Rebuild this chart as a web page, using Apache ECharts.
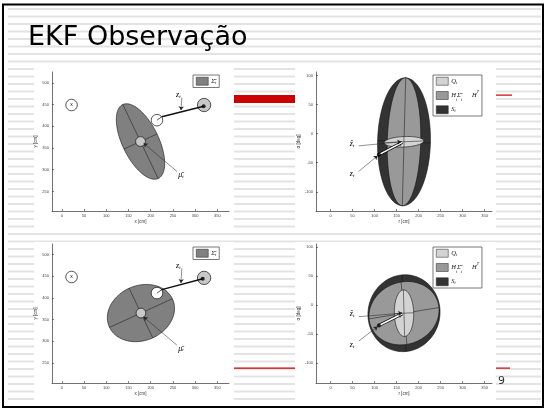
<!DOCTYPE html>
<html>
<head>
<meta charset="utf-8">
<title>EKF Observação</title>
<script src="https://cdn.jsdelivr.net/npm/echarts@6/dist/echarts.min.js"></script>
<style>
  html, body { margin: 0; padding: 0; background: #fff; }
  #chart { width: 551px; height: 414px; }
</style>
</head>
<body>
<div id="chart"></div>
<script>
// tick labels
const xTicks = [0, 50, 100, 150, 200, 250, 300, 350]
const yTicks = [250, 300, 350, 400, 450, 500]
const rTicks = [0, 50, 100, 150, 200, 250, 300, 350]
const alphaTicks = [-100, -50, 0, 50, 100]

// pose belief ellipse [cx, cy, semi-axis 1, semi-axis 2, angle deg] (cm)
const sigmaTop = [[177, 365, 94, 41, 115]]
const sigmaBottom = [[178, 365, 78, 63, 25]]

// discs [x, y, radius] (cm)
const landmarkTop = [[22, 449, 13]]
const meanTop = [[177, 365, 11]]
const predTop = [[214, 414, 13]]
const obsTop = [[320, 449, 15]]
const landmarkBottom = [[22, 448, 13]]
const meanBottom = [[178, 365, 11]]
const predBottom = [[214, 411, 13]]
const obsBottom = [[320, 446, 15]]

// measured landmark point and ray from predicted pose
const hitTop = [[319, 446]]
const hitBottom = [[317, 444]]
const rayTop = [[214, 414], [225, 422], [319, 446]]
const rayBottom = [[214, 411], [225, 419], [317, 444]]

// annotation leaders and label anchors (x-y panels): z_t, mu_t
const leadTop = [[[270, 466], [268, 437]], [[259, 296], [184, 361]]]
const leadBottom = [[[270, 468], [268, 434]], [[259, 291], [184, 356]]]
const labelTop = [[262, 472], [268, 288]]
const labelBottom = [[262, 474], [268, 283]]

// innovation ellipses in (r [cm], alpha [deg])
const sTop = [[167, -14, 110, 60, 88]]
const hshTop = [[167, -14, 110, 38, 88]]
const qTop = [[167, -14, 45, 9, 2]]
const sBottom = [[167, -14, 82, 66, 4]]
const hshBottom = [[167, -14, 80, 54, 7]]
const qBottom = [[167, -14, 40, 22, 92]]

// measurement z_t and prediction z^_t
const zTop = [[110, -36]]
const zHatTop = [[163, -15]]
const zBottom = [[110, -35]]
const zHatBottom = [[163, -15]]

// leaders (z panels): z^_t, z_t
const zLeadTop = [[[64, -21], [161, -14]], [[64, -65], [107, -38]]]
const zLeadBottom = [[[64, -20], [163, -14]], [[64, -62], [107, -37]]]
const zLabelTop = [[49, -18], [49, -69]]
const zLabelBottom = [[49, -16], [49, -69]]

const serif = 'Liberation Serif'
const mathRich = {
    i: { fontFamily: serif, fontStyle: 'italic', fontSize: 8, color: '#111' },
    s: { fontFamily: serif, fontStyle: 'italic', fontSize: 5, color: '#111', verticalAlign: 'bottom' },
    p: { fontFamily: serif, fontStyle: 'italic', fontSize: 5, color: '#111', verticalAlign: 'top' },
    x: { fontFamily: 'Liberation Sans', fontSize: 5, color: '#111' }
}
const legendRich = {
    i: { fontFamily: serif, fontStyle: 'italic', fontSize: 6.5, color: '#111' },
    s: { fontFamily: serif, fontStyle: 'italic', fontSize: 4, color: '#111', verticalAlign: 'bottom' },
    p: { fontFamily: serif, fontStyle: 'italic', fontSize: 4, color: '#111', verticalAlign: 'top' }
}
const legendText = {
    Sigma: '{i|Σ̄}{s|t}',
    Q: '{i|Q}{s|t}',
    HSH: '{i|H}{s|t}{i|Σ̄}{s|t}   {i|H}{p|T}',
    S: '{i|S}{s|t}'
}

function ellipseItem(params, api) {
    const cx = api.value(0), cy = api.value(1)
    const a = api.value(2), b = api.value(3)
    const t0 = api.value(4) * Math.PI / 180
    const c = Math.cos(t0), s = Math.sin(t0)
    const at = (u, v) => api.coord([cx + u * c - v * s, cy + u * s + v * c])
    const ring = []
    for (let k = 0; k < 96; k++) {
        const t = k / 96 * Math.PI * 2
        ring.push(at(a * Math.cos(t), b * Math.sin(t)))
    }
    const seg = (p, q) => ({
        type: 'line',
        shape: { x1: p[0], y1: p[1], x2: q[0], y2: q[1] },
        style: { stroke: '#111', lineWidth: 0.5 }
    })
    return {
        type: 'group',
        children: [
            { type: 'polygon', shape: { points: ring }, style: { fill: api.visual('color'), stroke: '#111', lineWidth: 0.6 } },
            seg(at(-a, 0), at(a, 0)),
            seg(at(0, -b), at(0, b))
        ]
    }
}

function discItem(params, api) {
    const p = api.coord([api.value(0), api.value(1)])
    const r = api.size([api.value(2), 0])[0]
    return {
        type: 'circle',
        shape: { cx: p[0], cy: p[1], r },
        style: { fill: api.visual('color'), stroke: '#111', lineWidth: 0.7 }
    }
}

function ellipseSeries(g, name, data, color) {
    return { type: 'custom', name, xAxisIndex: g, yAxisIndex: g, data, itemStyle: { color }, renderItem: ellipseItem, silent: true }
}
function discSeries(g, data, color) {
    return { type: 'custom', xAxisIndex: g, yAxisIndex: g, data, itemStyle: { color }, renderItem: discItem, silent: true }
}
function segSeries(g, segs, width, color, arrow) {
    return {
        type: 'lines', coordinateSystem: 'cartesian2d', xAxisIndex: g, yAxisIndex: g, silent: true,
        symbol: ['none', arrow ? 'arrow' : 'none'], symbolSize: 4,
        lineStyle: { color, width, opacity: 1, curveness: 0 },
        data: segs.map(c => ({ coords: c }))
    }
}
function dotSeries(g, data) {
    return { type: 'scatter', xAxisIndex: g, yAxisIndex: g, data, symbolSize: 4, itemStyle: { color: '#000' }, silent: true }
}
function textSeries(g, data, texts) {
    return {
        type: 'custom', xAxisIndex: g, yAxisIndex: g, data, silent: true,
        renderItem: (params, api) => {
            const p = api.coord([api.value(0), api.value(1)])
            return {
                type: 'text', x: p[0], y: p[1],
                style: { text: texts[params.dataIndex], rich: mathRich, align: 'center', verticalAlign: 'middle' }
            }
        }
    }
}

function xyPanel(g, d) {
    return [
        ellipseSeries(g, 'Sigma', d.sigma, '#808080'),
        discSeries(g, d.landmark, '#ffffff'),
        textSeries(g, d.landmark, ['{x|x}']),
        discSeries(g, d.mean, '#c8c8c8'),
        discSeries(g, d.obs, '#c8c8c8'),
        discSeries(g, d.pred, '#ffffff'),
        segSeries(g, [d.ray.slice(0, 2)], 0.7, '#111', false),
        segSeries(g, [d.ray.slice(1)], 1.5, '#111', false),
        dotSeries(g, d.hit),
        segSeries(g, d.lead, 0.5, '#222', true),
        textSeries(g, d.label, ['{i|z}{s|t}', '{i|μ̄}{s|t}'])
    ]
}

function zPanel(g, d) {
    return [
        ellipseSeries(g, 'S', d.s, '#333333'),
        ellipseSeries(g, 'HSH', d.hsh, '#999999'),
        ellipseSeries(g, 'Q', d.q, '#d3d3d3'),
        segSeries(g, [[d.z[0], d.zHat[0]]], 3.2, '#111', true),
        segSeries(g, [[d.z[0], d.zHat[0]]], 1.6, '#fff', false),
        dotSeries(g, d.z),
        segSeries(g, d.lead, 0.5, '#222', true),
        textSeries(g, d.label, ['{i|ẑ}{s|t}', '{i|z}{s|t}'])
    ]
}

function axis(g, min, max, ticks, name, gap) {
    return {
        type: 'value', gridIndex: g, min, max, name, nameLocation: 'middle', nameGap: gap,
        nameTextStyle: { fontSize: 4.5, color: '#333', fontFamily: 'Liberation Sans' },
        axisLine: { show: true, onZero: false, lineStyle: { color: '#333', width: 0.7 } },
        axisTick: { show: true, inside: true, length: 2, customValues: ticks, lineStyle: { color: '#333', width: 0.6 } },
        axisLabel: { customValues: ticks, fontSize: 4, color: '#444', margin: 3, fontFamily: 'Liberation Sans' },
        splitLine: { show: false }
    }
}

// slide background: stripes, red rules, white panels, frame
const bg = [{ type: 'rect', shape: { x: 0, y: 0, width: 551, height: 414 }, style: { fill: '#fff' } }]
for (let y = 9; y < 404; y += 7.5) {
    bg.push({ type: 'rect', shape: { x: 8, y: y - 1, width: 533, height: 2 }, style: { fill: '#e3e3e3' } })
}
bg.push(
    { type: 'rect', shape: { x: 234, y: 95, width: 61, height: 8 }, style: { fill: '#cc0000' } },
    { type: 'rect', shape: { x: 496, y: 94.5, width: 16, height: 1.2 }, style: { fill: '#cc0000' } },
    { type: 'rect', shape: { x: 234, y: 367.5, width: 61, height: 1.2 }, style: { fill: '#cc0000' } },
    { type: 'rect', shape: { x: 496, y: 367.5, width: 14, height: 1.2 }, style: { fill: '#cc0000' } },
    { type: 'rect', shape: { x: 34, y: 68, width: 200, height: 161 }, style: { fill: '#fff' } },
    { type: 'rect', shape: { x: 295, y: 68, width: 201, height: 161 }, style: { fill: '#fff' } },
    { type: 'rect', shape: { x: 34, y: 242, width: 200, height: 160 }, style: { fill: '#fff' } },
    { type: 'rect', shape: { x: 295, y: 242, width: 201, height: 160 }, style: { fill: '#fff' } },
    { type: 'rect', shape: { x: 3, y: 4.5, width: 540, height: 402.5 }, style: { fill: null, stroke: '#000', lineWidth: 2 } }
)

const legendBase = {
    orient: 'vertical', icon: 'rect', itemWidth: 12, itemHeight: 8, itemGap: 4,
    padding: [2, 3], borderColor: '#555', borderWidth: 0.8, backgroundColor: '#fff',
    itemStyle: { borderColor: '#222', borderWidth: 0.5 },
    selectedMode: false,
    formatter: name => legendText[name],
    textStyle: { rich: legendRich, padding: [0, 0, 0, -2] }
}

const option = {
    animation: false,
    graphic: [
        { type: 'group', z: -10, children: bg },
        { type: 'text', left: 28, top: 24, style: { text: 'EKF Observação', font: '27px "DejaVu Sans"', fill: '#000' } },
        { type: 'text', left: 498, top: 376, style: { text: '9', font: '11px "DejaVu Sans"', fill: '#333' } }
    ],
    grid: [
        { left: 52, top: 72, width: 177, height: 139 },
        { left: 316, top: 72, width: 176, height: 139 },
        { left: 52, top: 244, width: 177, height: 139 },
        { left: 316, top: 244, width: 176, height: 139 }
    ],
    xAxis: [
        axis(0, -22, 376, xTicks, 'x [cm]', 8),
        axis(1, -33, 367, rTicks, 'r [cm]', 8),
        axis(2, -22, 376, xTicks, 'x [cm]', 8),
        axis(3, -33, 367, rTicks, 'r [cm]', 8)
    ],
    yAxis: [
        axis(0, 205, 525, yTicks, 'y [cm]', 12),
        axis(1, -133, 106, alphaTicks, 'α [deg]', 14),
        axis(2, 204, 524, yTicks, 'y [cm]', 12),
        axis(3, -134, 105, alphaTicks, 'α [deg]', 14)
    ],
    legend: [
        Object.assign({}, legendBase, { left: 193, top: 75, data: ['Sigma'] }),
        Object.assign({}, legendBase, { left: 433, top: 75, data: ['Q', 'HSH', 'S'] }),
        Object.assign({}, legendBase, { left: 193, top: 247, data: ['Sigma'] }),
        Object.assign({}, legendBase, { left: 433, top: 247, data: ['Q', 'HSH', 'S'] })
    ],
    series: [].concat(
        xyPanel(0, { sigma: sigmaTop, landmark: landmarkTop, mean: meanTop, pred: predTop, obs: obsTop, hit: hitTop, ray: rayTop, lead: leadTop, label: labelTop }),
        zPanel(1, { s: sTop, hsh: hshTop, q: qTop, z: zTop, zHat: zHatTop, lead: zLeadTop, label: zLabelTop }),
        xyPanel(2, { sigma: sigmaBottom, landmark: landmarkBottom, mean: meanBottom, pred: predBottom, obs: obsBottom, hit: hitBottom, ray: rayBottom, lead: leadBottom, label: labelBottom }),
        zPanel(3, { s: sBottom, hsh: hshBottom, q: qBottom, z: zBottom, zHat: zHatBottom, lead: zLeadBottom, label: zLabelBottom })
    )
}

const chart = echarts.init(document.getElementById('chart'))
chart.setOption(option)
window.addEventListener('resize', () => chart.resize())
</script>
</body>
</html>
